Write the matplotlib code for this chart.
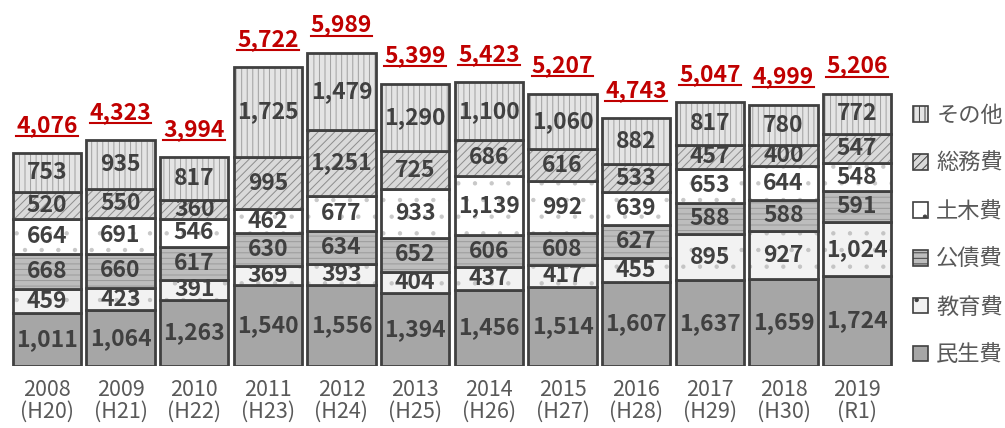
import matplotlib
matplotlib.use("Agg")
import matplotlib.pyplot as plt
from matplotlib.patches import Patch
from matplotlib.lines import Line2D

plt.rcParams['font.family'] = ['Noto Sans CJK JP', 'DejaVu Sans']
plt.rcParams['hatch.linewidth'] = 0.7

years = ['2008\n(H20)', '2009\n(H21)', '2010\n(H22)', '2011\n(H23)', '2012\n(H24)', '2013\n(H25)',
         '2014\n(H26)', '2015\n(H27)', '2016\n(H28)', '2017\n(H29)', '2018\n(H30)', '2019\n(R1)']
series_names = ['民生費', '教育費', '公債費', '土木費', '総務費', 'その他']
minsei = [1011, 1064, 1263, 1540, 1556, 1394, 1456, 1514, 1607, 1637, 1659, 1724]
kyoiku = [459, 423, 391, 369, 393, 404, 437, 417, 455, 895, 927, 1024]
kosai = [668, 660, 617, 630, 634, 652, 606, 608, 627, 588, 588, 591]
doboku = [664, 691, 546, 462, 677, 933, 1139, 992, 639, 653, 644, 548]
somu = [520, 550, 360, 995, 1251, 725, 686, 616, 533, 457, 400, 547]
sonota = [753, 935, 817, 1725, 1479, 1290, 1100, 1060, 882, 817, 780, 772]
totals = [4076, 4323, 3994, 5722, 5989, 5399, 5423, 5207, 4743, 5047, 4999, 5206]

series = [minsei, kyoiku, kosai, doboku, somu, sonota]
fills = ['#a6a6a6', '#f2f2f2', '#bdbdbd', '#ffffff', '#d9d9d9', '#e4e4e4']
hatches = [None, '.', '---', '.', '////', '|||']
hatch_cols = ['#a6a6a6', '#c4c4c4', '#9a9a9a', '#c8c8c8', '#8c8c8c', '#a0a0a0']

fig = plt.figure(figsize=(10.05, 4.28), dpi=100)
ax = fig.add_axes([10/1005, 62/428, 884/1005, 366/428])
x = list(range(len(years)))
bw = 0.93
edge = '#404040'

bottoms = [0]*len(years)
for vals, fc, h, hc in zip(series, fills, hatches, hatch_cols):
    ax.bar(x, vals, bw, bottom=bottoms, color=fc, hatch=h, edgecolor=hc, linewidth=0)
    ax.bar(x, vals, bw, bottom=bottoms, fill=False, edgecolor=edge, linewidth=2)
    for i, v in enumerate(vals):
        ax.text(x[i], bottoms[i] + v/2, f'{v:,}', ha='center', va='center',
                fontsize=16.5, fontweight='bold', color='#404040')
    bottoms = [b + v for b, v in zip(bottoms, vals)]

total_texts = []
for i, t in enumerate(totals):
    tt = ax.annotate(f'{t:,}', (x[i], bottoms[i]), xytext=(0, 20), textcoords='offset points',
                     ha='center', va='center', fontsize=16.5, fontweight='bold', color='#c00000')
    total_texts.append(tt)

ax.set_xlim(-0.5, len(years) - 0.5)
ax.set_ylim(0, 7000)
ax.set_xticks(x)
ax.set_xticklabels(years, fontsize=15.5, color='#595959', linespacing=1.0)
ax.tick_params(axis='x', length=0, pad=9)
ax.set_yticks([])
for s in ax.spines.values():
    s.set_visible(False)

# underline total labels
fig.canvas.draw()
r = fig.canvas.get_renderer()
for tt in total_texts:
    bb = tt.get_window_extent(r)
    y0 = bb.y0 + 1
    ln = Line2D([bb.x0, bb.x1], [y0, y0], transform=None, color='#c00000', linewidth=1.5)
    fig.add_artist(ln)

handles = []
for name, fc, h, hc in zip(series_names, fills, hatches, hatch_cols):
    handles.append(Patch(facecolor=fc, hatch=h, edgecolor=edge, linewidth=1.2, label=name))
handles = handles[::-1]
leg = fig.legend(handles=handles, loc='upper left', bbox_to_anchor=(904/1005, 1 - 95/428),
                 frameon=False, fontsize=16, labelcolor='#595959', handlelength=0.7,
                 handleheight=0.7, handletextpad=0.35, labelspacing=1.12, borderaxespad=0)

fig.savefig('out.png', dpi=100)
